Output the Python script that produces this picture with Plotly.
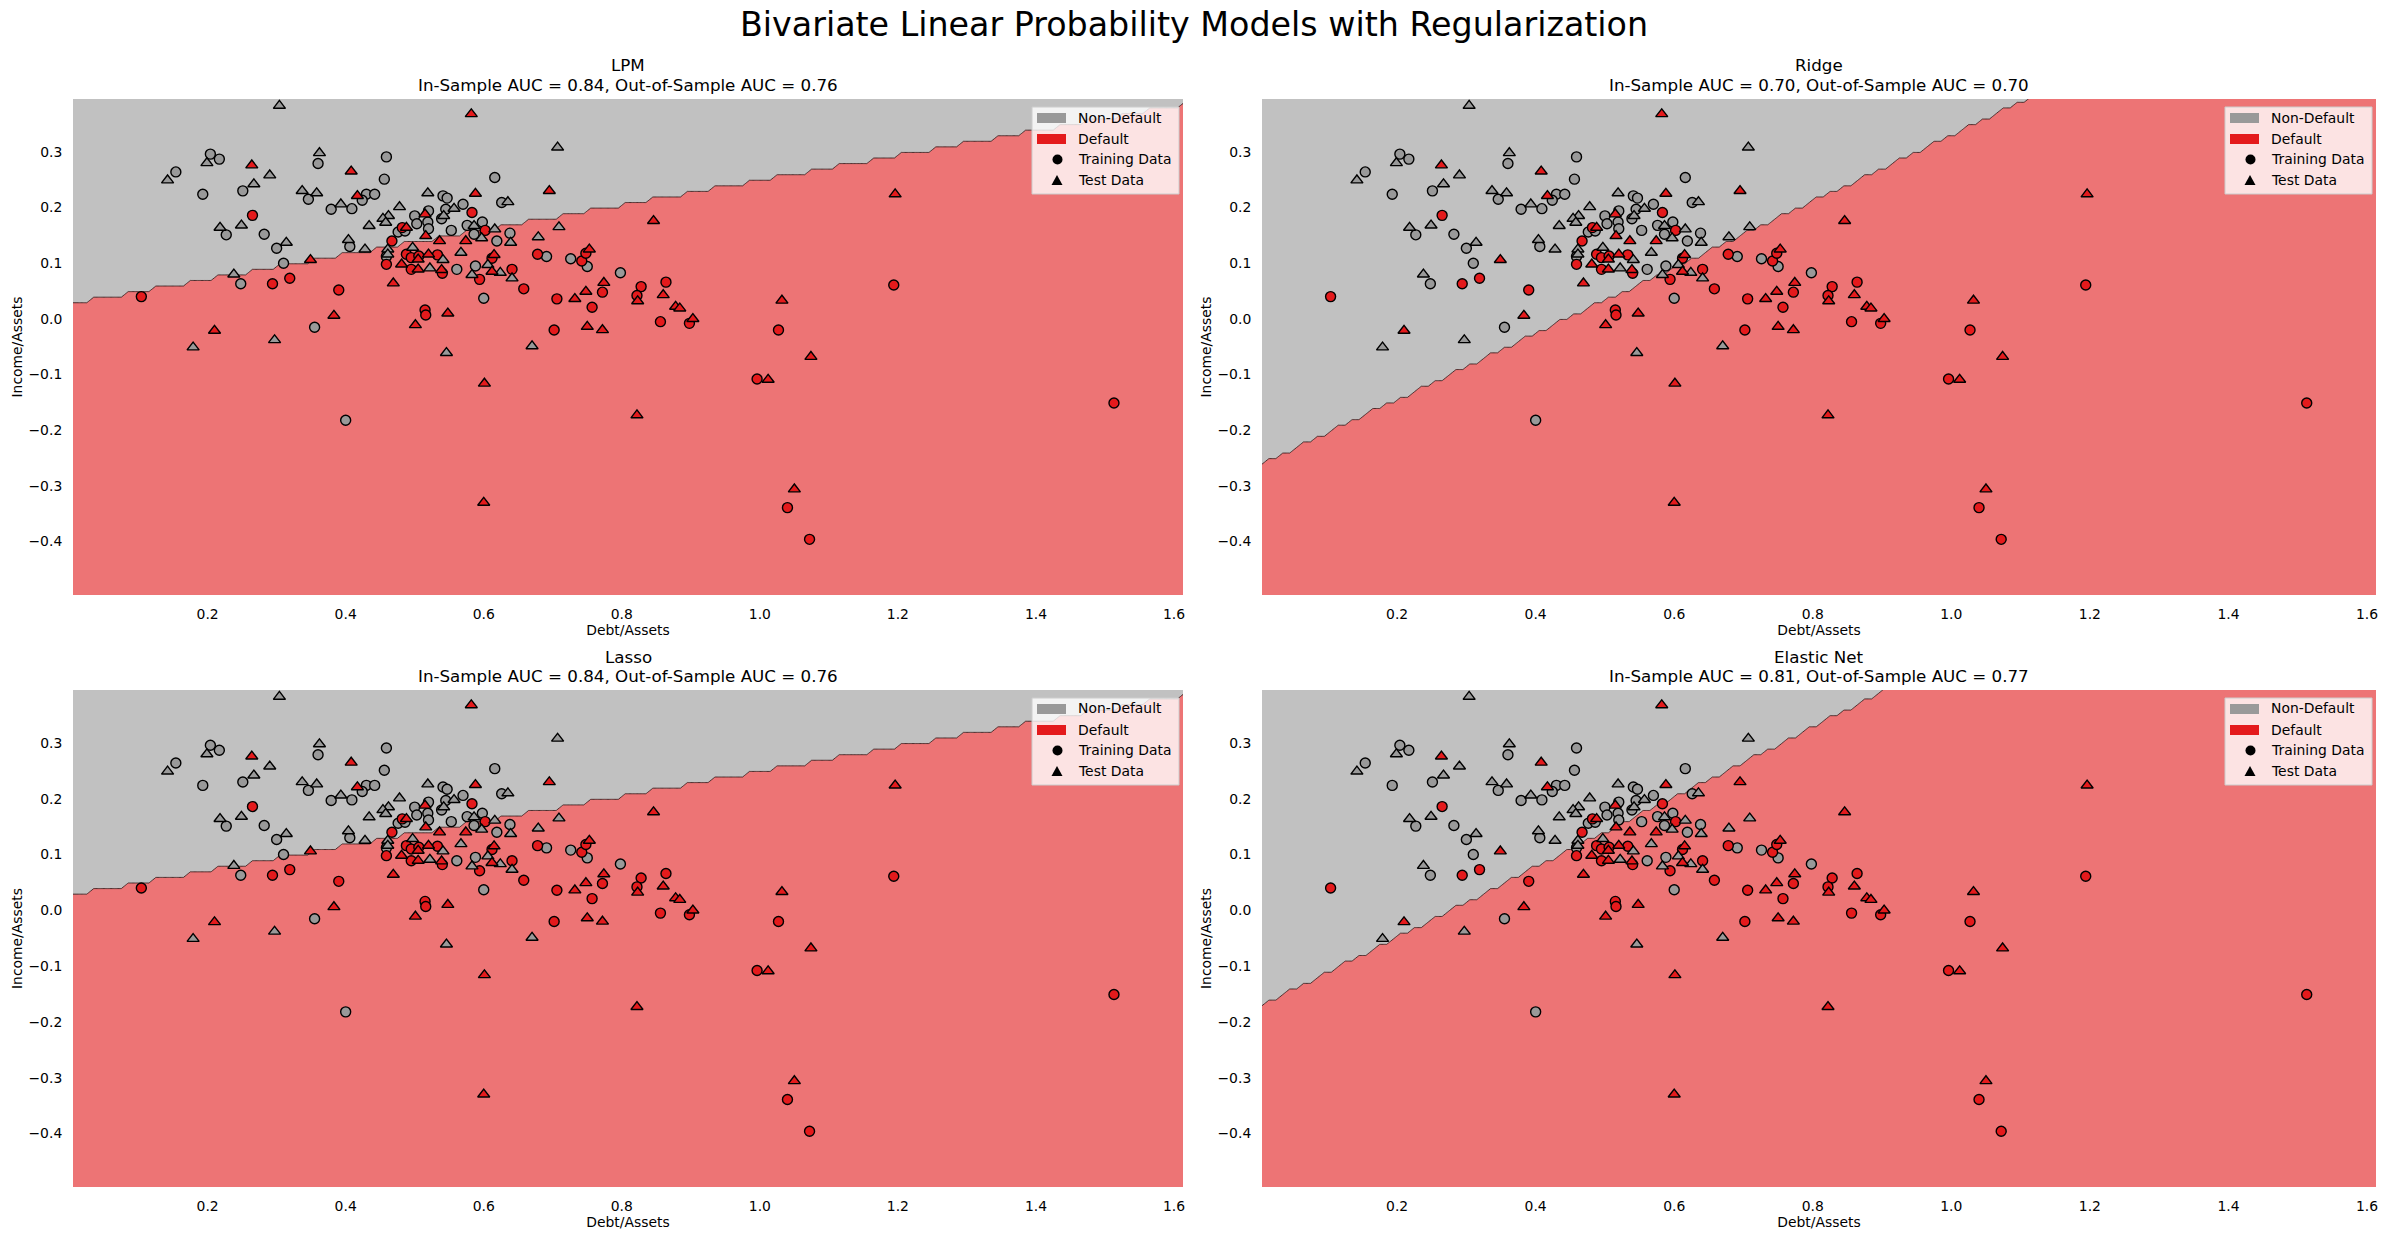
import numpy as np
import plotly.graph_objects as go

# ---------------- data ----------------
# Training data (circles): non-default (grey) and default (red)
train_nd_x = [0.204, 0.217, 0.154, 0.251, 0.193, 0.360, 0.346, 0.430, 0.424, 0.379, 0.409, 0.227,
              0.282, 0.300, 0.310, 0.406, 0.248, 0.355, 0.400,
              0.459, 0.456, 0.616, 0.442, 0.541, 0.547, 0.626, 0.570, 0.545, 0.500, 0.520, 0.539,
              0.503, 0.519, 0.520, 0.576, 0.598, 0.638, 0.553, 0.476, 0.486, 0.586, 0.619, 0.459,
              0.561, 0.588, 0.600, 0.691, 0.726, 0.750, 0.798]
train_nd_y = [0.296, 0.287, 0.264, 0.230, 0.224, 0.279, 0.215, 0.224, 0.213, 0.197, 0.198, 0.151,
              0.152, 0.127, 0.100, 0.130, 0.063, -0.015, -0.182,
              0.291, 0.251, 0.254, 0.224, 0.221, 0.217, 0.209, 0.206, 0.197, 0.185, 0.194, 0.180,
              0.171, 0.174, 0.162, 0.168, 0.174, 0.154, 0.159, 0.156, 0.158, 0.152, 0.140, 0.112,
              0.089, 0.095, 0.037, 0.112, 0.108, 0.094, 0.083]
train_d_x = [0.265, 0.294, 0.319, 0.390, 0.104,
             0.583, 0.602, 0.482, 0.467, 0.459, 0.488, 0.495, 0.506, 0.533, 0.495, 0.540, 0.594,
             0.612, 0.641, 0.515, 0.516,
             0.678, 0.742, 0.748, 0.658, 0.706, 0.772, 0.757, 0.828, 0.822, 0.864, 0.856,
             0.702, 0.898, 1.194, 1.027, 0.996, 1.513, 1.040, 1.072]
train_d_y = [0.186, 0.063, 0.073, 0.052, 0.040,
             0.191, 0.159, 0.164, 0.140, 0.098, 0.116, 0.110, 0.113, 0.115, 0.089, 0.082, 0.071,
             0.109, 0.089, 0.016, 0.007,
             0.116, 0.104, 0.118, 0.054, 0.036, 0.048, 0.021, 0.058, 0.042, 0.066, -0.005,
             -0.020, -0.008, 0.061, -0.020, -0.108, -0.151, -0.339, -0.396]

# Test data (triangles)
test_nd_x = [0.304, 0.199, 0.142, 0.290, 0.267, 0.362, 0.337, 0.358, 0.393, 0.218, 0.249, 0.314,
             0.404, 0.428, 0.434, 0.238, 0.179, 0.297, 0.546, 0.670,
             0.519, 0.635, 0.478, 0.557, 0.462, 0.454, 0.542, 0.458, 0.586, 0.616, 0.597, 0.639,
             0.461, 0.461, 0.497, 0.541, 0.567, 0.522, 0.583, 0.606, 0.624, 0.641,
             0.707, 0.709, 0.679]
test_nd_y = [0.383, 0.280, 0.249, 0.258, 0.242, 0.298, 0.230, 0.226, 0.206, 0.164, 0.168, 0.137,
             0.142, 0.125, 0.167, 0.080, -0.051, -0.038, -0.061, -0.049,
             0.226, 0.210, 0.201, 0.198, 0.185, 0.180, 0.185, 0.173, 0.167, 0.161, 0.145, 0.137,
             0.125, 0.116, 0.128, 0.106, 0.119, 0.091, 0.079, 0.097, 0.083, 0.073,
             0.308, 0.165, 0.147]
test_d_x = [0.264, 0.408, 0.417, 0.349, 0.383, 0.210, 0.501, 0.601, 0.600, 0.750, 0.772, 0.822,
            0.588, 0.515, 0.488, 0.516, 0.536, 0.574, 0.481, 0.505, 0.520, 0.505, 0.539, 0.469,
            0.615, 0.612, 0.548,
            0.695, 0.846, 0.753, 0.732, 0.748, 0.774, 0.823, 0.860, 0.878,
            0.582, 1.196, 1.032, 0.903, 0.884, 1.074, 1.012, 1.050]
test_d_y = [0.276, 0.265, 0.221, 0.106, 0.006, -0.021, -0.011, -0.116, -0.330, -0.014, -0.020, -0.173,
            0.225, 0.188, 0.164, 0.149, 0.140, 0.140, 0.098, 0.107, 0.116, 0.089, 0.088, 0.064,
            0.115, 0.085, 0.010,
            0.230, 0.176, 0.125, 0.036, 0.049, 0.065, 0.032, 0.043, 0.022,
            0.368, 0.224, 0.033, 0.000, 0.019, -0.068, -0.109, -0.306]

model_names = ["LPM", "Ridge", "Lasso", "Elastic Net"]
in_sample_auc = [0.84, 0.70, 0.84, 0.81]
out_sample_auc = [0.76, 0.70, 0.76, 0.77]
# decision boundary  Income/Assets = intercept + slope * Debt/Assets
boundary_intercept = [0.027, -0.264, 0.027, -0.174]
boundary_slope = [0.222, 0.594, 0.222, 0.628]

legend_labels = ["Non-Default", "Default", "Training Data", "Test Data"]

x_range = [0.005, 1.613]
y_range = [-0.496, 0.395]
grid_step = 0.01
x_ticks = [0.2, 0.4, 0.6, 0.8, 1.0, 1.2, 1.4, 1.6]
x_tick_labels = ["0.2", "0.4", "0.6", "0.8", "1.0", "1.2", "1.4", "1.6"]
y_ticks = [-0.4, -0.3, -0.2, -0.1, 0.0, 0.1, 0.2, 0.3]
y_tick_labels = ["\u22120.4", "\u22120.3", "\u22120.2", "\u22120.1", "0.0", "0.1", "0.2", "0.3"]

# ---------------- styling ----------------
W, H = 2387, 1241
FONT = "DejaVu Sans"
GREY = "#999999"
RED = "#e41a1c"
GREY_BG = "rgb(193,193,193)"
RED_BG = "rgb(237,116,117)"
TXT = 13.9

col_px = [(73, 1183), (1262, 2376)]
row_px = [(99, 595), (690, 1187)]


def px(xp):
    return xp / W


def py(yp):
    return 1 - yp / H


fig = go.Figure()
annotations = []
shapes = []
layout_axes = {}

gx = np.arange(x_range[0], x_range[1] + grid_step, grid_step)
gy = np.arange(y_range[0], y_range[1] + grid_step, grid_step)
GX, GY = np.meshgrid(gx, gy)

for k in range(4):
    r, c = divmod(k, 2)
    x0, x1 = col_px[c]
    top, bot = row_px[r]
    xa = "x" if k == 0 else f"x{k+1}"
    ya = "y" if k == 0 else f"y{k+1}"
    xname = "xaxis" if k == 0 else f"xaxis{k+1}"
    yname = "yaxis" if k == 0 else f"yaxis{k+1}"

    Z = (GY < boundary_intercept[k] + boundary_slope[k] * GX).astype(float)
    fig.add_trace(go.Contour(
        x=gx, y=gy, z=Z, zmin=0, zmax=1, autocontour=False,
        contours=dict(start=0.5, end=0.5, size=1, coloring="fill", showlines=True),
        colorscale=[[0, GREY_BG], [0.5, GREY_BG], [0.5, RED_BG], [1, RED_BG]],
        line=dict(color="rgba(50,25,25,0.85)", width=1, smoothing=0),
        showscale=False, hoverinfo="skip", showlegend=False, xaxis=xa, yaxis=ya))

    for xs, ys, col, sym, sz in [
        (train_nd_x, train_nd_y, GREY, "circle", 10),
        (train_d_x, train_d_y, RED, "circle", 10),
        (test_nd_x, test_nd_y, GREY, "triangle-up", 10.5),
        (test_d_x, test_d_y, RED, "triangle-up", 10.5),
    ]:
        fig.add_trace(go.Scatter(
            x=xs, y=ys, mode="markers", showlegend=False, hoverinfo="skip",
            marker=dict(symbol=sym, size=sz, color=col, line=dict(color="black", width=1.4)),
            xaxis=xa, yaxis=ya))

    # ---- manual legend (box, patches, marker glyphs, labels) ----
    shapes.append(dict(type="rect", xref="paper", yref="paper",
                       x0=px(x1 - 151), x1=px(x1 - 4), y0=py(top + 95), y1=py(top + 8),
                       fillcolor="rgba(255,255,255,0.8)", line=dict(color="#cccccc", width=1),
                       layer="above"))
    shapes.append(dict(type="rect", xref="paper", yref="paper",
                       x0=px(x1 - 146), x1=px(x1 - 117), y0=py(top + 24), y1=py(top + 14),
                       fillcolor=GREY, line=dict(width=0), layer="above"))
    shapes.append(dict(type="rect", xref="paper", yref="paper",
                       x0=px(x1 - 146), x1=px(x1 - 117), y0=py(top + 45), y1=py(top + 35),
                       fillcolor=RED, line=dict(width=0), layer="above"))
    cxm, cym = x1 - 125.5, top + 60.5
    shapes.append(dict(type="circle", xref="paper", yref="paper",
                       x0=px(cxm - 5), x1=px(cxm + 5), y0=py(cym + 5), y1=py(cym - 5),
                       fillcolor="black", line=dict(width=0), layer="above"))
    txm, tym = x1 - 126, top + 81.5
    shapes.append(dict(type="path", xref="paper", yref="paper",
                       path=(f"M {px(txm - 5.5)},{py(tym + 4.5)} L {px(txm + 5.5)},{py(tym + 4.5)} "
                             f"L {px(txm)},{py(tym - 5.5)} Z"),
                       fillcolor="black", line=dict(width=0), layer="above"))
    for lab, dy in zip(legend_labels, [18.5, 39.5, 60, 81]):
        annotations.append(dict(text=lab, x=px(x1 - 107), y=py(top + dy), xref="paper", yref="paper",
                                xanchor="left", yanchor="middle", showarrow=False,
                                font=dict(family=FONT, size=TXT, color="black")))

    layout_axes[xname] = dict(
        domain=[x0 / W, x1 / W], anchor=ya, range=x_range,
        tickvals=x_ticks, ticktext=x_tick_labels, ticks="outside", ticklen=6,
        tickcolor="rgba(0,0,0,0)", showgrid=False, zeroline=False, showline=False,
        tickfont=dict(family=FONT, size=TXT, color="black"),
        title=dict(text="Debt/Assets", font=dict(family=FONT, size=TXT, color="black"), standoff=3),
        automargin=False, fixedrange=True)
    layout_axes[yname] = dict(
        domain=[1 - bot / H, 1 - top / H], anchor=xa, range=y_range,
        tickvals=y_ticks, ticktext=y_tick_labels, ticks="outside", ticklen=7,
        tickcolor="rgba(0,0,0,0)", showgrid=False, zeroline=False, showline=False,
        tickfont=dict(family=FONT, size=TXT, color="black"),
        title=dict(text="Income/Assets", font=dict(family=FONT, size=TXT, color="black"), standoff=2),
        automargin=False, fixedrange=True)

    cx = (x0 + x1) / 2 / W
    annotations.append(dict(text=model_names[k], x=cx, y=py(top - 33.5), xref="paper", yref="paper",
                            xanchor="center", yanchor="middle", showarrow=False,
                            font=dict(family=FONT, size=16.7, color="black")))
    annotations.append(dict(
        text=f"In-Sample AUC = {in_sample_auc[k]:.2f}, Out-of-Sample AUC = {out_sample_auc[k]:.2f}",
        x=cx, y=py(top - 14), xref="paper", yref="paper",
        xanchor="center", yanchor="middle", showarrow=False,
        font=dict(family=FONT, size=16.7, color="black")))

annotations.append(dict(text="Bivariate Linear Probability Models with Regularization",
                        x=0.5, y=py(24.4), xref="paper", yref="paper",
                        xanchor="center", yanchor="middle", showarrow=False,
                        font=dict(family=FONT, size=33.3, color="black")))

fig.update_layout(
    width=W, height=H, margin=dict(l=0, r=0, t=0, b=0),
    paper_bgcolor="white", plot_bgcolor="white", showlegend=False,
    font=dict(family=FONT, size=TXT, color="black"),
    annotations=annotations, shapes=shapes, **layout_axes)

fig.write_html("out.html", config={"displayModeBar": False},
               post_script="document.body.style.margin='0px';document.body.style.padding='0px';")
